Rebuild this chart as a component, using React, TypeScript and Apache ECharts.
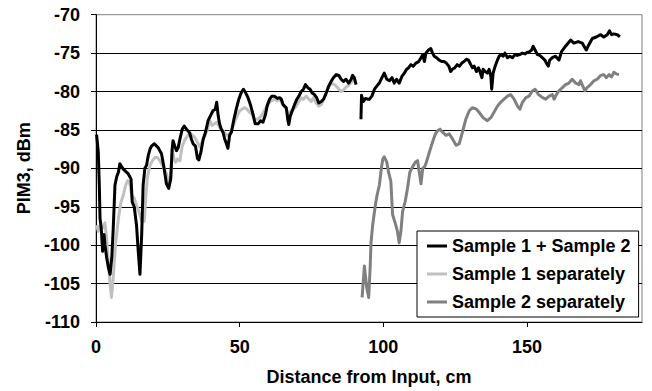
import React, { useEffect, useRef } from "react";
import * as echarts from "echarts";

const FONT = "'Liberation Sans', Arial, Helvetica, sans-serif";

const seriesNames = ["Sample 1 + Sample 2", "Sample 1 separately", "Sample 2 separately"];
const seriesColors = ["#000000", "#c0c0c0", "#808080"];

const xTickValues = [0, 50, 100, 150];

// Sample 1 + Sample 2 (first run, up to ~90 cm)
const combinedPart1: [number, number][] = [
  [0.2, -85.6], [0.8, -87.9], [1.15, -92.2], [1.4, -96.5], [1.7, -97.4], [1.9, -98.2], [2.3, -100.8],
  [2.8, -98.6], [3.1, -99.9], [3.7, -101.6], [4.3, -102.9], [4.9, -103.8], [5.5, -101.6], [6.0, -97.8],
  [6.6, -92.2], [7.2, -91.1], [7.8, -90.5], [8.3, -89.4], [9.5, -90.1], [10.6, -90.5], [11.2, -90.7],
  [12.2, -91.4], [12.6, -94.4], [13.3, -95], [14.1, -97.4], [14.7, -100.8], [15.3, -103.8], [15.9, -98.6],
  [16.4, -92.2], [17, -90], [17.6, -89.6], [18.2, -88.3], [18.8, -87.5], [19.3, -87.1], [20.3, -86.8],
  [21.1, -87.1], [21.6, -87.3], [22.8, -88.1], [23.7, -90], [24.5, -92], [25.3, -92.6], [26, -91.4],
  [26.5, -87.5], [26.8, -86.4], [27.4, -87.1], [28, -87.7], [28.6, -87.3], [29.2, -86.2], [30, -84.9],
  [30.7, -84.5], [31.5, -84.9], [32.6, -85.4], [33.2, -86.2], [33.8, -86.8], [34.6, -87.1], [35.3, -88.7],
  [35.8, -88.9], [36.5, -87.9], [37.3, -86.2], [38.1, -85.3], [39, -83.8], [39.9, -83.1], [40.7, -82.5],
  [41.5, -82.3], [42, -81.4], [42.5, -83.1], [43, -84.2], [43.6, -84.9], [44.2, -85.3], [44.8, -86.2],
  [45.4, -86.8], [45.9, -87.4], [46.5, -85.7], [47.1, -85.3], [48, -83.6], [48.8, -82.3], [49.7, -81],
  [50.6, -80.1], [51.3, -79.7], [52, -80.1], [52.9, -80.8], [53.8, -81.8], [54.6, -82.9], [55.4, -84.2],
  [56.4, -84.2], [57.3, -83.8], [58.1, -84], [58.9, -83.1], [59.6, -81.8], [60.4, -81], [61.2, -80.6],
  [62.1, -80.6], [63.1, -80.9], [63.9, -80.8], [64.5, -81], [65.1, -81.7], [65.6, -81.9], [66.2, -82.1],
  [66.8, -83.8], [67.1, -84.3], [67.6, -83.2], [68.3, -82.5], [69.1, -81.7], [69.9, -81], [70.6, -80.6],
  [71.4, -80], [72.2, -79.7], [72.9, -79.1], [73.7, -79.5], [74.5, -79.7], [75.2, -80.2], [76, -80.4],
  [76.8, -80.8], [77.5, -81.5], [78.4, -81.3], [79.2, -81], [80.1, -80.2], [81, -79.3], [81.8, -78.7],
  [82.6, -78.2], [83.6, -77.8], [84.5, -77.9], [85.3, -78.4], [86.1, -78.7], [87, -78.4], [87.9, -78.9],
  [88.8, -78.4], [89.3, -77.9], [89.9, -78.2], [90.5, -79.1],
];

// Sample 1 + Sample 2 (second run, from ~92 cm)
const combinedPart2: [number, number][] = [
  [92.2, -83.6], [92.4, -80.5], [93, -81.3], [93.8, -80.9], [94.5, -81], [95.1, -81], [96, -80.6],
  [96.9, -79.7], [97.7, -79.3], [98.6, -78.9], [99.5, -78.2], [100.3, -77.6], [101.2, -78.4], [102.1, -78.6],
  [103, -78.2], [103.8, -78.9], [104.6, -78.4], [105.5, -78.9], [106.5, -78], [107.3, -77.6], [108.1, -77.1],
  [108.8, -76.9], [109.6, -76.5], [110.4, -76.7], [111.3, -76.3], [112.3, -76.1], [113.1, -75.6], [113.7, -75.2],
  [114.3, -76.1], [114.8, -75], [115.7, -74.6], [116.5, -74.4], [117.1, -75], [117.7, -75.4], [118.5, -75.6],
  [119.4, -75.9], [120.3, -76.1], [121.1, -76.1], [121.9, -76.3], [122.8, -76.7], [123.4, -77.4], [124, -77.1],
  [124.9, -76.9], [125.7, -76.5], [126.5, -76.7], [127.3, -76.3], [128.1, -76.1], [128.9, -75.8], [129.6, -75.9],
  [130.4, -76.5], [131, -76.9], [131.6, -76.7], [132.4, -77.4], [133.1, -76.9], [133.6, -77.4], [134.3, -78.2],
  [134.7, -77.1], [135.4, -77.4], [136.2, -77.6], [136.8, -77.1], [137.4, -78], [137.7, -79.7], [138.2, -77.6],
  [138.9, -76.7], [139.7, -75.9], [140.3, -75.4], [140.9, -75.2], [141.7, -75.4], [142.3, -75], [143.2, -75.6],
  [144, -75.4], [144.9, -75.6], [145.8, -75.2], [146.6, -75.3], [147.4, -75.2], [148.4, -75], [149.3, -75.1],
  [150.1, -74.9], [150.9, -74.8], [151.6, -74.6], [152.1, -74.1], [152.8, -74.6], [153.6, -75.2], [154.4, -75.3],
  [155.3, -75.6], [156.2, -75.9], [157, -76.5], [157.4, -76.7], [157.9, -75.9], [158.8, -75.6], [159.9, -75.4],
  [161.1, -75.9], [162, -74.8], [163.4, -74.1], [165.2, -73.3], [166.3, -73.7], [167.8, -73.5], [169.2, -73.7],
  [170.6, -74.6], [171.5, -73.9], [172.7, -73.1], [174.1, -72.9], [175.6, -72.6], [176.7, -72.9], [177.9, -72.6],
  [178.7, -72.1], [179.4, -72.6], [180.2, -72.5], [181.4, -72.6], [182.3, -72.9],
];

// Sample 1 separately
const sample1: [number, number][] = [
  [0.2, -97.4], [0.8, -98.2], [1.5, -97.4], [2.2, -97.8], [3.1, -97.1], [3.7, -99.1], [4.3, -102.1],
  [4.9, -105.1], [5.4, -106.8], [6, -104.2], [6.8, -99.9], [7.8, -96.5], [8.7, -94.4], [9.5, -93.5],
  [10.3, -92.2], [11, -91.6], [11.7, -91.8], [12.4, -93.5], [13.3, -93.9], [14.1, -94.8], [14.9, -95.6],
  [15.9, -96.9], [16.8, -96.9], [17.3, -93.9], [17.9, -91.1], [18.8, -89.6], [19.6, -89], [20.5, -88.6],
  [21.4, -88.6], [22.2, -89], [23.4, -89.8], [24.5, -90.7], [25.3, -91.8], [26, -91.1], [26.5, -87.5],
  [27.2, -88.8], [27.7, -89.2], [28.4, -88.8], [29.2, -89], [30, -87.1], [30.9, -86.3], [32, -85.7],
  [33, -85.5], [34.2, -85.9], [35.3, -86.6], [36.1, -87.2], [36.9, -86.6], [37.9, -85.7], [38.8, -84.9],
  [39.6, -83.8], [40.4, -84.4], [41.3, -84.2], [42, -84], [42.7, -84.4], [43.4, -84.9], [44.2, -85.1],
  [45, -85.5], [45.7, -85.7], [46.5, -85.5], [47.3, -84.9], [48.2, -84], [49.2, -83.1], [50, -82.5],
  [50.8, -82.3], [51.7, -82.1], [52.6, -82.3], [53.4, -82.7], [54.2, -82.9], [55.1, -83.6], [56.1, -83.6],
  [56.9, -83.4], [57.7, -83.1], [58.6, -82.5], [59.6, -81.8], [60.4, -81.4], [61.2, -81.2], [62.1, -81],
  [63.1, -81.2], [63.9, -81], [65.1, -81.7], [66.2, -82.3], [67.1, -83], [67.9, -82.5], [68.7, -82.3],
  [69.7, -81.9], [70.6, -81.3], [71.4, -80.8], [72.2, -81], [73.1, -80.6], [74.1, -81], [74.9, -81.3],
  [75.7, -80.8], [76.6, -81.5], [77.5, -81.9], [78.4, -81.7], [79.2, -81], [80.1, -80.2], [81, -79.3],
  [81.8, -79], [82.6, -79], [83.6, -79.3], [84.5, -79.7], [85.3, -80], [86.1, -79.8], [87, -79.4],
  [87.9, -79.2], [88.8, -78.8], [89.6, -78.6], [90.3, -78.5],
];

// Sample 2 separately
const sample2: [number, number][] = [
  [92.6, -106.8], [93.4, -102.7], [94.2, -105.5], [94.9, -106.8], [95.4, -102.9], [95.7, -99.7], [96.3, -97.3],
  [97.2, -94.8], [97.8, -93.5], [98.6, -92.2], [99.3, -90], [99.8, -88.8], [100.3, -88.5], [101.2, -89.2],
  [101.8, -90.5], [102.6, -91.7], [103.2, -96], [104.1, -97.1], [104.9, -98.2], [105.5, -99.7], [106.1, -98.2],
  [106.7, -95.6], [107.6, -94.3], [108.4, -92.6], [109.2, -90.5], [110.2, -89.8], [111.1, -89.2], [111.9, -89],
  [112.5, -90.5], [113.1, -92], [113.7, -90], [114.3, -89.8], [114.8, -89.4], [116, -87.9], [117.1, -86.6],
  [118.1, -85.5], [118.9, -85.1], [119.7, -84.9], [120.6, -85.3], [121.8, -85.7], [122.9, -85.5], [124.1, -86.2],
  [125.3, -87], [126.4, -86.8], [127.5, -85.3], [128.7, -83.6], [129.9, -82.5], [131, -82.1], [132.4, -82.3],
  [133.3, -82.7], [134.7, -83.4], [136.2, -83.8], [137.4, -83.4], [138.5, -82.7], [139.7, -81.9], [140.8, -81.4],
  [142, -81], [143.2, -80.6], [144.3, -80.4], [145.5, -81], [146.7, -81.9], [147.5, -82.3], [148.4, -81.4],
  [149.6, -80.8], [150.7, -80.6], [151.9, -79.9], [152.8, -79.7], [154, -80.4], [155.4, -80.8], [156.5, -81],
  [157.7, -80.6], [158.8, -80.4], [159.4, -81], [160.2, -80.4], [161.1, -79.9], [162.3, -79.5], [163.4, -79.1],
  [164.6, -78.9], [165.7, -78.4], [166.9, -78.9], [168.1, -79.1], [168.6, -78.6], [169.4, -79.3], [170.1, -79.9],
  [170.9, -79.5], [172.1, -79.1], [173.3, -78.6], [174.4, -78.4], [175.6, -77.9], [176.7, -77.8], [177.6, -78.2],
  [178.5, -77.8], [179.4, -78.1], [180.2, -77.5], [181, -77.7], [182, -77.8],
];

export default function App() {
  const ref = useRef<HTMLDivElement>(null);

  useEffect(() => {
    if (!ref.current) return;
    const chart = echarts.init(ref.current, null, { renderer: "svg" });
    const textBase = { fontFamily: FONT, fontWeight: "bold" as const, color: "#000" };
    const lineSeries = (name: string, data: [number, number][], color: string, z: number) => ({
      name,
      type: "line",
      data,
      symbol: "none",
      showSymbol: false,
      z,
      lineStyle: { color, width: 3, join: "round" },
      itemStyle: { color },
      emphasis: { disabled: true },
    });
    chart.setOption({
      animation: false,
      backgroundColor: "#ffffff",
      grid: {
        left: 96,
        right: 10,
        top: 14.7,
        bottom: 66,
        show: true,
        borderColor: "#808080",
        borderWidth: 1,
        backgroundColor: "transparent",
      },
      xAxis: {
        type: "value",
        min: 0,
        max: 190,
        interval: 50,
        name: "Distance from Input, cm",
        nameLocation: "middle",
        nameGap: 46,
        nameTextStyle: { ...textBase, fontSize: 18 },
        axisLine: { show: true, onZero: false, lineStyle: { color: "#000", width: 1 } },
        axisTick: { show: true, length: 5, customValues: xTickValues, lineStyle: { color: "#000", width: 1 } },
        axisLabel: { ...textBase, fontSize: 18, margin: 16, customValues: xTickValues },
        splitLine: { show: false },
      },
      yAxis: {
        type: "value",
        min: -110,
        max: -70,
        interval: 5,
        name: "PIM3, dBm",
        nameLocation: "middle",
        nameRotate: 90,
        nameGap: 61,
        nameTextStyle: { ...textBase, fontSize: 18 },
        axisLine: { show: true, onZero: false, lineStyle: { color: "#000", width: 1 } },
        axisTick: { show: true, length: 5, lineStyle: { color: "#000", width: 1 } },
        axisLabel: { ...textBase, fontSize: 18, margin: 16 },
        splitLine: { show: true, showMaxLine: false, lineStyle: { color: "#000", width: 1 } },
      },
      legend: {
        orient: "vertical",
        left: 417,
        top: 231,
        padding: [5, 8, 5, 10],
        itemGap: 8,
        itemWidth: 20,
        itemHeight: 3,
        icon: "rect",
        backgroundColor: "#ffffff",
        borderColor: "#000",
        borderWidth: 1,
        borderRadius: 0,
        selectedMode: false,
        textStyle: { ...textBase, fontSize: 18, lineHeight: 20 },
        data: seriesNames,
      },
      series: [
        lineSeries(seriesNames[1], sample1, seriesColors[1], 2),
        lineSeries(seriesNames[2], sample2, seriesColors[2], 2),
        lineSeries(seriesNames[0], combinedPart1, seriesColors[0], 3),
        lineSeries(seriesNames[0], combinedPart2, seriesColors[0], 3),
      ],
    });
    return () => chart.dispose();
  }, []);

  return (
    <div
      ref={ref}
      style={{ position: "fixed", left: 0, top: 0, width: 652, height: 391, background: "#fff" }}
    />
  );
}
